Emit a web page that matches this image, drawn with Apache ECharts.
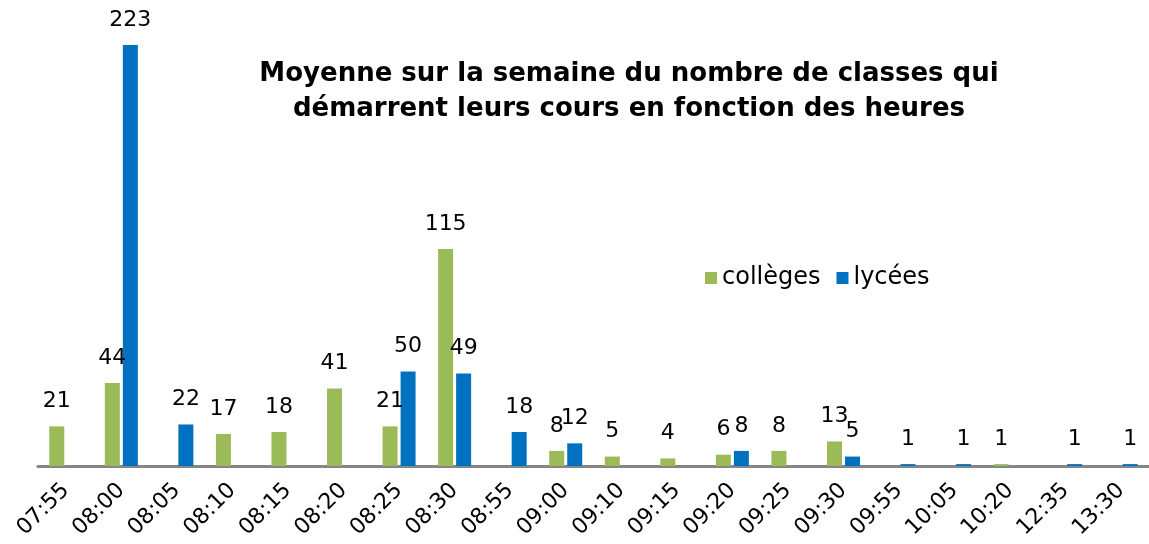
<!DOCTYPE html>
<html>
<head>
<meta charset="utf-8">
<script src="https://cdn.jsdelivr.net/npm/echarts@6/dist/echarts.min.js"></script>
<style>
  html, body { margin: 0; padding: 0; background: #fff; }
  #chart { width: 1149px; height: 544px; }
</style>
</head>
<body>
<div id="chart"></div>
<script>
// heures de début des cours
var heures = ['07:55', '08:00', '08:05', '08:10', '08:15', '08:20', '08:25', '08:30', '08:55', '09:00',
              '09:10', '09:15', '09:20', '09:25', '09:30', '09:55', '10:05', '10:20', '12:35', '13:30'];
var colleges = [21, 44, null, 17, 18, 41, 21, 115, null, 8, 5, 4, 6, 8, 13, null, null, 1, null, null];
var lycees = [null, 223, 22, null, null, null, 50, 49, 18, 12, null, null, 8, null, 5, 1, 1, null, 1, 1];

var police = '"DejaVu Sans", Verdana, sans-serif';

function serie(nom, valeurs, couleur) {
    return {
        name: nom,
        type: 'bar',
        barWidth: 15,
        barGap: '20%',
        itemStyle: { color: couleur },
        label: {
            show: true,
            position: 'top',
            distance: 14,
            color: '#000',
            fontSize: 22,
            fontFamily: police
        },
        data: valeurs
    };
}

var chart = echarts.init(document.getElementById('chart'));
chart.setOption({
    animation: false,
    textStyle: { fontFamily: police },
    title: {
        text: 'Moyenne sur la semaine du nombre de classes qui\ndémarrent leurs cours en fonction des heures',
        left: 624,
        top: 52,
        textAlign: 'center',
        textStyle: {
            fontSize: 26,
            fontWeight: 'bold',
            lineHeight: 35,
            color: '#000',
            fontFamily: police
        }
    },
    legend: {
        left: 700,
        top: 261,
        icon: 'rect',
        itemWidth: 12,
        itemHeight: 12,
        itemGap: 16,
        textStyle: { fontSize: 24, color: '#000', fontFamily: police },
        data: ['collèges', 'lycées']
    },
    grid: { left: 38, right: 0, top: 45, bottom: 78 },
    xAxis: {
        type: 'category',
        data: heures,
        axisLine: { lineStyle: { color: '#868686', width: 3 } },
        axisTick: { show: false },
        axisLabel: {
            rotate: 45,
            interval: 0,
            margin: 21,
            fontSize: 22,
            color: '#000',
            fontFamily: police
        }
    },
    yAxis: {
        type: 'value',
        min: 0,
        max: 223,
        show: false,
        splitLine: { show: false }
    },
    series: [
        serie('collèges', colleges, '#9BBB59'),
        serie('lycées', lycees, '#0070C0')
    ]
});
</script>
</body>
</html>
